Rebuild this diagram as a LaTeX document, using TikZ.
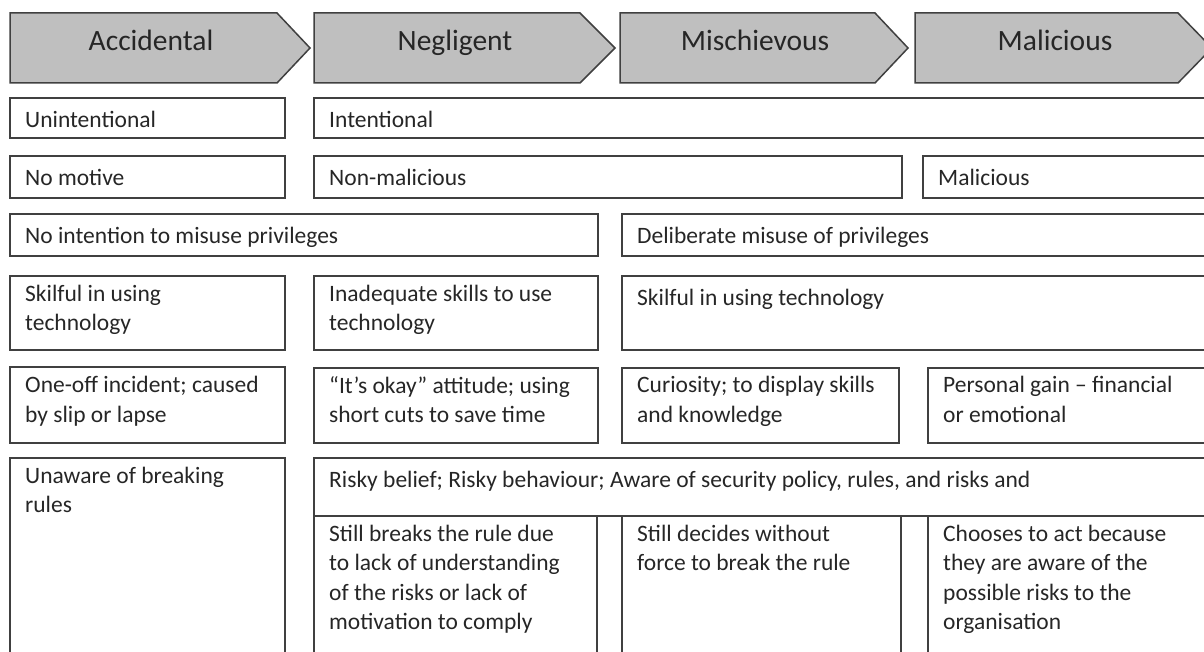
\documentclass[tikz,border=0pt]{standalone}
\usepackage{fontspec}
\setmainfont{Carlito}
\begin{document}
\begin{tikzpicture}[x=1pt,y=-1pt,
    stage/.style = {draw=black!75, line width=1.5pt, fill=black!25},
    stagetext/.style = {anchor=base, inner sep=0pt, font=\fontsize{29.5}{34}\selectfont, text=black!85},
    box/.style = {draw=black!75, line width=1.5pt},
    celltext/.style = {anchor=north west, inner sep=0pt, align=left, font=\fontsize{23.5}{29.5}\selectfont, text=black!85, execute at begin node=\strut}]
    \clip (0,0) rectangle (1204,652);

    % stages
    \draw[stage] (10,13) -- (277,13) -- (310,48) -- (277,83) -- (10,83) -- cycle;
    \draw[stage] (314,13) -- (580,13) -- (615,48) -- (580,83) -- (314,83) -- cycle;
    \draw[stage] (620,13) -- (875,13) -- (908,48) -- (875,83) -- (620,83) -- cycle;
    \draw[stage] (915,13) -- (1178,13) -- (1212,48) -- (1178,83) -- (915,83) -- cycle;

    \node[stagetext] (accidental) at (151,51) {Accidental};
    \node[stagetext] (negligent) at (455,51) {Negligent};
    \node[stagetext] (mischievous) at (755,51) {Mischievous};
    \node[stagetext] (malicious) at (1055,51) {Malicious};

    % intention
    \draw[box] (10,98) rectangle (285,138);
    \draw[box] (314,98) rectangle (1220,138);
    \node[celltext] (unintentional) at (25,106.5) {Unintentional};
    \node[celltext] (intentional) at (329,106.5) {Intentional};

    % motive
    \draw[box] (10,156) rectangle (285,198);
    \draw[box] (314,156) rectangle (902,198);
    \draw[box] (923,156) rectangle (1220,198);
    \node[celltext] (nomotive) at (25,164.5) {No motive};
    \node[celltext] (nonmalicious) at (329,164.5) {Non-malicious};
    \node[celltext] (maliciousmotive) at (938,164.5) {Malicious};

    % privileges
    \draw[box] (10,214) rectangle (598,256);
    \draw[box] (622,214) rectangle (1220,256);
    \node[celltext] (nomisuse) at (25,222.5) {No intention to misuse privileges};
    \node[celltext] (misuse) at (637,222.5) {Deliberate misuse of privileges};

    % skills
    \draw[box] (10,276) rectangle (285,350);
    \draw[box] (314,276) rectangle (598,350);
    \draw[box] (622,276) rectangle (1220,350);
    \node[celltext] (skilful) at (25,284.5) {Skilful in using\\technology};
    \node[celltext] (inadequate) at (329,284.5) {Inadequate skills to use\\technology};
    \node[celltext] (skilfultech) at (637,284.5) {Skilful in using technology};

    % reasons
    \draw[box] (10,367) rectangle (285,443);
    \draw[box] (314,368) rectangle (598,443);
    \draw[box] (622,368) rectangle (899,443);
    \draw[box] (928,368) rectangle (1220,443);
    \node[celltext] (oneoff) at (25,376) {One-off incident; caused\\by slip or lapse};
    \node[celltext] (okay) at (329,376) {“It’s okay” attitude; using\\short cuts to save time};
    \node[celltext] (curiosity) at (637,376) {Curiosity; to display skills\\and knowledge};
    \node[celltext] (gain) at (943,376) {Personal gain – financial\\or emotional};

    % awareness
    \draw[box] (10,458) rectangle (285,670);
    \draw[box] (314,458) rectangle (1220,516);
    \draw[box] (314,516) rectangle (597,670);
    \draw[box] (622,516) rectangle (901,670);
    \draw[box] (928,516) rectangle (1220,670);
    \node[celltext] (unaware) at (25,466.5) {Unaware of breaking\\rules};
    \node[celltext] (risky) at (329,466.5) {Risky belief; Risky behaviour; Aware of security policy, rules, and risks and};
    \node[celltext] (breaks) at (329,524.5) {Still breaks the rule due\\to lack of understanding\\of the risks or lack of\\motivation to comply};
    \node[celltext] (decides) at (637,524.5) {Still decides without\\force to break the rule};
    \node[celltext] (chooses) at (943,524.5) {Chooses to act because\\they are aware of the\\possible risks to the\\organisation};
\end{tikzpicture}
\end{document}
